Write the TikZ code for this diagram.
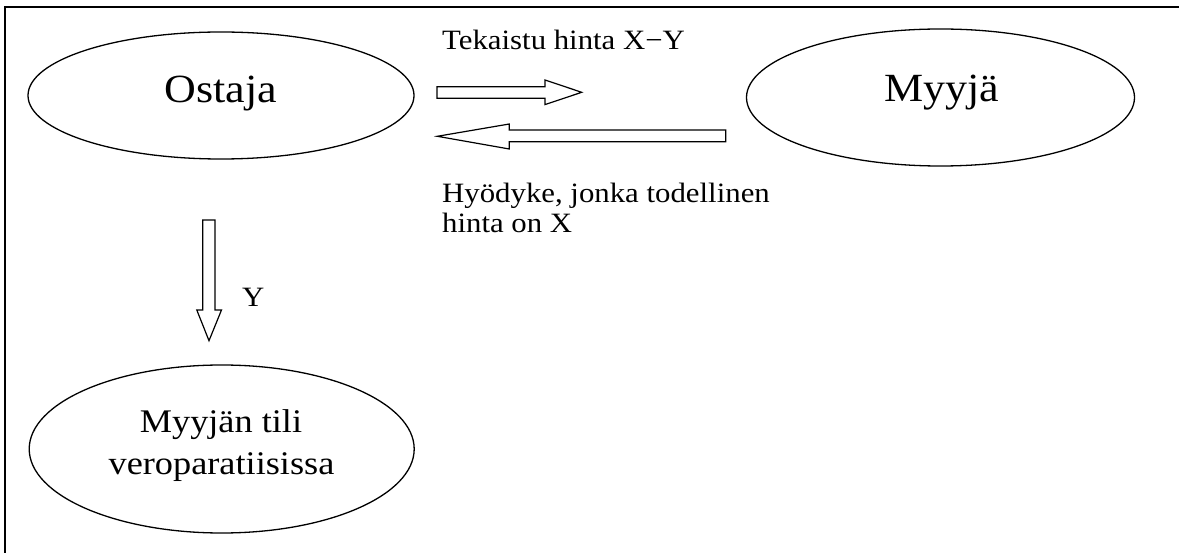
\documentclass[tikz,border=0pt]{standalone}
\usepackage{fontspec}
\setmainfont{Liberation Serif}[FakeStretch=1.1]
\usetikzlibrary{shapes.geometric}
\tikzset{
  party/.style={draw, line width=1.3pt, ellipse, inner sep=0pt},
  blockarrow/.style={draw, line width=1.2pt, line join=miter},
  bigtext/.style={inner sep=0pt, font=\fontsize{40}{46}\selectfont},
  midtext/.style={inner sep=0pt, font=\fontsize{33}{43}\selectfont},
  labeltext/.style={inner sep=0pt, font=\fontsize{28}{32}\selectfont}
}
\begin{document}
\begin{tikzpicture}[x=1pt,y=-1pt]
\useasboundingbox (0,0) rectangle (1179,553);
\draw[line width=2pt] (5,553) -- (5,7) -- (1179,7);

\node[party, minimum width=386pt, minimum height=127pt] (ostaja) at (221,95.5) {};
\node[bigtext, anchor=base] (ostajatxt) at (221,103) {Ostaja};

\node[party, minimum width=388pt, minimum height=137pt] (myyja) at (940.5,97.5) {};
\node[bigtext, anchor=base] (myyjatxt) at (941.5,101.7) {Myyjä};

\node[party, minimum width=385pt, minimum height=168pt] (tili) at (221.7,449) {};
\node[midtext, anchor=base] (tili1) at (221,432) {Myyjän tili};
\node[midtext, anchor=base] (tili2) at (221.5,475) {veroparatiisissa};

% block arrows
\draw[blockarrow] (437,86.7) -- (545,86.7) -- (545,80) -- (581.7,92.3) -- (545,104.6) -- (545,98.3) -- (437,98.3) -- cycle;
\draw[blockarrow] (725.7,130) -- (509.3,130) -- (509.3,124) -- (437.3,136.3) -- (509.3,149) -- (509.3,141.7) -- (725.7,141.7) -- cycle;
\draw[blockarrow] (202.8,220) -- (215,220) -- (215,310) -- (221.5,310) -- (209,340.7) -- (196.8,310) -- (202.8,310) -- cycle;

\node[labeltext, anchor=base west] (tekaistu) at (442,50) {Tekaistu hinta X−Y};
\node[labeltext, anchor=base west] (hyodyke1) at (442,203) {Hyödyke, jonka todellinen};
\node[labeltext, anchor=base west] (hyodyke2) at (442,233) {hinta on X};
\node[labeltext, anchor=base west] (ylabel) at (242,307) {Y};
\end{tikzpicture}
\end{document}
